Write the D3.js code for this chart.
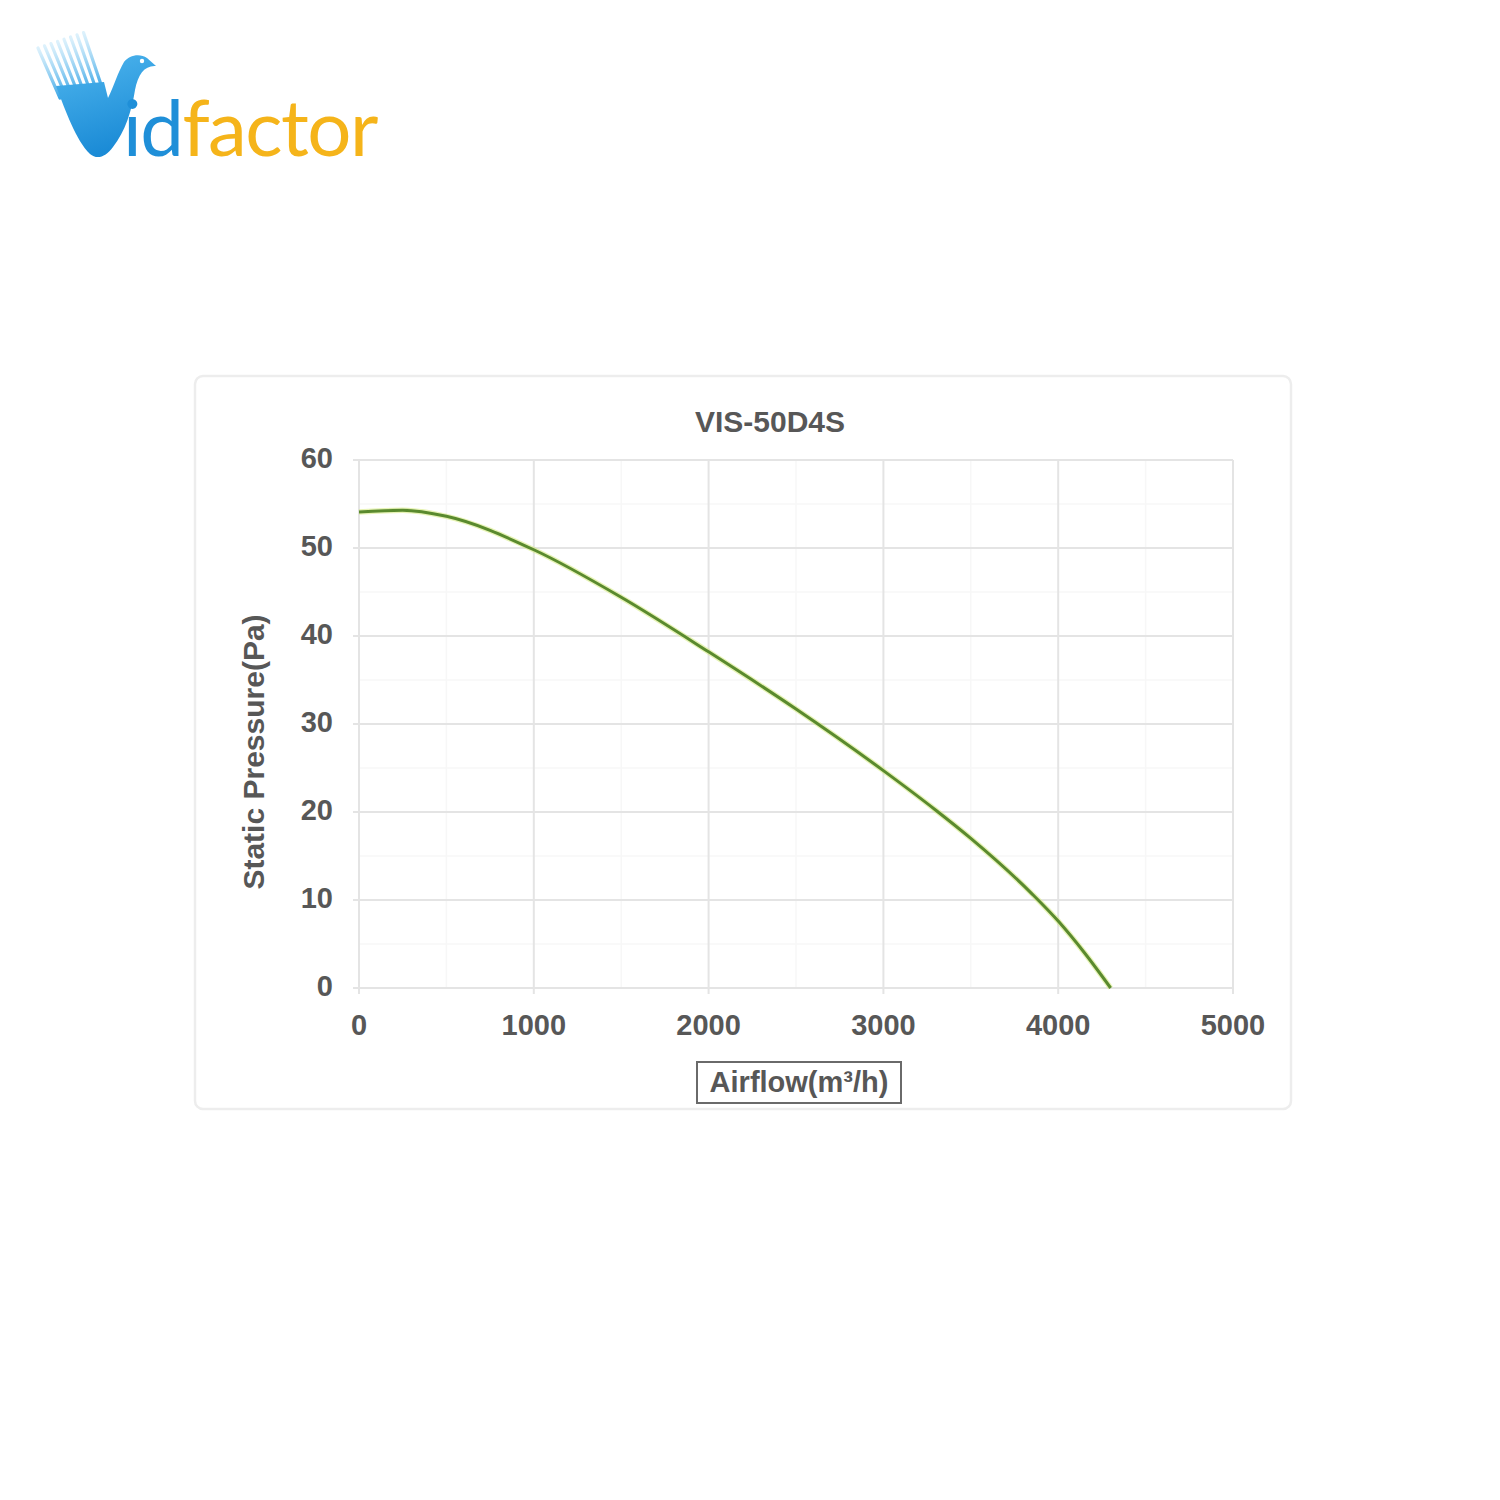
<!DOCTYPE html>
<html>
<head>
<meta charset="utf-8">
<script src="https://cdn.jsdelivr.net/npm/d3@7"></script>
<style>
  body { margin: 0; background: #fff; }
  svg { display: block; }
</style>
</head>
<body>
<script>
// fan curve
var airflow = [0, 250, 500, 1000, 1500, 2000, 2500, 3000, 3300, 3500, 3850, 4000, 4150, 4300];
var pressure = [54.1, 54.3, 53.6, 49.8, 44.4, 38.2, 31.7, 24.7, 20.2, 17.0, 10.7, 7.6, 4.0, 0];
var xTicks = [0, 1000, 2000, 3000, 4000, 5000];
var yTicks = [0, 10, 20, 30, 40, 50, 60];
var chartTitle = 'VIS-50D4S';
var xTitle = 'Airflow(m³/h)';
var yTitle = 'Static Pressure(Pa)';

var W = 1500, H = 1500;
var FONT = '"Liberation Sans", Arial, sans-serif';
var TEXT = '#575757';

var svg = d3.select('body').append('svg').attr('width', W).attr('height', H);
svg.append('rect').attr('width', W).attr('height', H).attr('fill', '#fff');

// ---- logo ----
var defs = svg.append('defs');
var grad = defs.append('linearGradient')
  .attr('id', 'vblue').attr('x1', 0).attr('y1', 0).attr('x2', 0.3).attr('y2', 1);
grad.append('stop').attr('offset', '0%').attr('stop-color', '#4fb6ee');
grad.append('stop').attr('offset', '100%').attr('stop-color', '#1b8bd6');
var sgrad = defs.append('linearGradient')
  .attr('id', 'streak').attr('x1', 0).attr('y1', 0).attr('x2', 0).attr('y2', 1);
sgrad.append('stop').attr('offset', '0%').attr('stop-color', '#a9dcf7').attr('stop-opacity', 0.4);
sgrad.append('stop').attr('offset', '100%').attr('stop-color', '#3aa6e6');

var logo = svg.append('g');
// feather streaks on the left arm of the V
for (var k = 0; k < 8; k++) {
  logo.append('path')
    .attr('d', 'M' + (38 + k * 6.5) + ',' + (48 - k * 2.2) +
               ' L' + (60 + k * 6) + ',' + (98 - k * 1.5))
    .attr('stroke', 'url(#streak)').attr('stroke-width', 3.2)
    .attr('stroke-linecap', 'round').attr('fill', 'none');
}
// V body with bird head
logo.append('path')
  .attr('d', 'M56,86 L104,82 L108,98 ' +
             'C114,86 118,72 124,62 C129,55 140,53 147,58 L156,66 ' +
             'C145,65 138,74 135,90 C132,110 125,132 113,147 ' +
             'C106,157 97,160 90,154 C76,140 66,112 56,86 Z')
  .attr('fill', 'url(#vblue)');
logo.append('circle').attr('cx', 142).attr('cy', 61).attr('r', 2.2).attr('fill', '#fff');

var word = logo.append('text')
  .attr('x', 123).attr('y', 156)
  .style('font-family', 'Lato, "Open Sans", sans-serif')
  .style('font-size', '78px')
  .style('letter-spacing', '-1.5px');
word.append('tspan').attr('fill', '#1f8fd8').text('id');
word.append('tspan').attr('fill', '#f5b41a').text('factor');

// ---- chart frame ----
svg.append('rect')
  .attr('x', 195).attr('y', 376).attr('width', 1096).attr('height', 733)
  .attr('rx', 8)
  .attr('fill', '#fff').attr('stroke', '#ededed').attr('stroke-width', 2.5);

var x = d3.scaleLinear().domain([0, 5000]).range([359, 1233]);
var y = d3.scaleLinear().domain([0, 60]).range([988, 460]);

var plot = svg.append('g');

// faint minor grid
var minorX = d3.range(0, 5001, 500).filter(function(v) { return v % 1000 !== 0; });
var minorY = d3.range(0, 61, 5).filter(function(v) { return v % 10 !== 0; });
plot.append('g').selectAll('line')
  .data(minorX)
  .enter().append('line')
    .attr('x1', function(d) { return x(d); }).attr('x2', function(d) { return x(d); })
    .attr('y1', y(60)).attr('y2', y(0))
    .attr('stroke', '#f7f7f7').attr('stroke-width', 1.5);
plot.append('g').selectAll('line')
  .data(minorY)
  .enter().append('line')
    .attr('y1', function(d) { return y(d); }).attr('y2', function(d) { return y(d); })
    .attr('x1', x(0)).attr('x2', x(5000))
    .attr('stroke', '#f7f7f7').attr('stroke-width', 1.5);

// major grid
plot.append('g').selectAll('line')
  .data(xTicks)
  .enter().append('line')
    .attr('x1', function(d) { return x(d); }).attr('x2', function(d) { return x(d); })
    .attr('y1', y(60)).attr('y2', y(0) + 6)
    .attr('stroke', '#e4e4e4').attr('stroke-width', 2);
plot.append('g').selectAll('line')
  .data(yTicks)
  .enter().append('line')
    .attr('y1', function(d) { return y(d); }).attr('y2', function(d) { return y(d); })
    .attr('x1', x(0) - 6).attr('x2', x(5000))
    .attr('stroke', '#e4e4e4').attr('stroke-width', 2);

// tick labels
plot.append('g').selectAll('text')
  .data(xTicks)
  .enter().append('text')
    .attr('x', function(d) { return x(d); })
    .attr('y', 1035)
    .attr('text-anchor', 'middle')
    .text(function(d) { return d; });
plot.append('g').selectAll('text')
  .data(yTicks)
  .enter().append('text')
    .attr('x', 333)
    .attr('y', function(d) { return y(d) + 7.5; })
    .attr('text-anchor', 'end')
    .text(function(d) { return d; });
plot.selectAll('text')
  .style('font-family', FONT)
  .style('font-weight', 'bold')
  .style('font-size', '29px')
  .attr('fill', TEXT);

// curve
var pts = airflow.map(function(a, i) { return [a, pressure[i]]; });
var line = d3.line()
  .x(function(d) { return x(d[0]); })
  .y(function(d) { return y(d[1]); })
  .curve(d3.curveMonotoneX);
plot.append('path').datum(pts)
  .attr('d', line)
  .attr('fill', 'none')
  .attr('stroke', '#d4ea7a').attr('stroke-width', 5.5).attr('opacity', 0.55);
plot.append('path').datum(pts)
  .attr('d', line)
  .attr('fill', 'none')
  .attr('stroke', '#5a8a2e').attr('stroke-width', 3);

// titles
svg.append('text')
  .attr('x', 770).attr('y', 432)
  .attr('text-anchor', 'middle')
  .style('font-family', FONT)
  .style('font-weight', 'bold')
  .style('font-size', '30px')
  .attr('fill', TEXT)
  .text(chartTitle);

svg.append('text')
  .attr('transform', 'translate(264,752) rotate(-90)')
  .attr('text-anchor', 'middle')
  .style('font-family', FONT)
  .style('font-weight', 'bold')
  .style('font-size', '30px')
  .attr('fill', TEXT)
  .text(yTitle);

svg.append('rect')
  .attr('x', 697).attr('y', 1062).attr('width', 204).attr('height', 41)
  .attr('fill', '#fff').attr('stroke', '#6a6a6a').attr('stroke-width', 2);
svg.append('text')
  .attr('x', 799).attr('y', 1092)
  .attr('text-anchor', 'middle')
  .style('font-family', FONT)
  .style('font-weight', 'bold')
  .style('font-size', '29px')
  .attr('fill', TEXT)
  .text(xTitle);
</script>
</body>
</html>
